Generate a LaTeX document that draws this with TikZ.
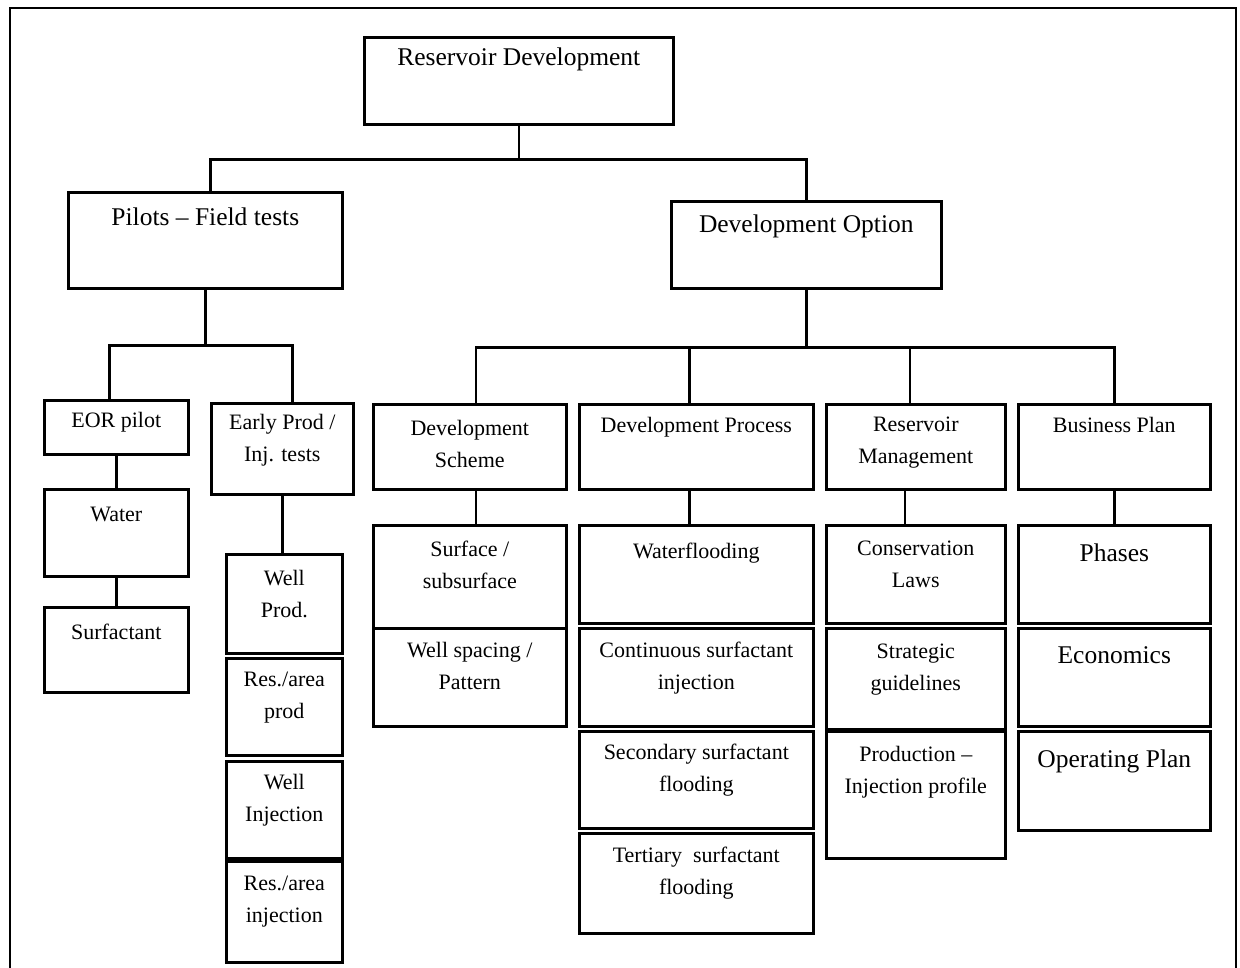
\documentclass[tikz,border=0pt]{standalone}
\usepackage{fontspec}
\setmainfont{Liberation Serif}
\usepackage{tikz}
\definecolor{BLACK}{HTML}{000000}
\definecolor{WHITE}{HTML}{FFFFFF}

\begin{document}
\begin{tikzpicture}[x=1pt, y=-1pt,
    box/.style={draw=BLACK, line width=2.6pt, anchor=north west, inner sep=0pt},
    txt/.style={anchor=north, inner sep=0pt, yshift=-15pt, align=center, font=\fontsize{22}{32}\selectfont},
    bigtxt/.style={txt, font=\fontsize{25.5}{32}\selectfont},
    link/.style={BLACK, line width=2.4pt}]
    \useasboundingbox[fill=WHITE] (0,0) rectangle (1240,967);
    % Frame
    \draw[BLACK, line width=2.4pt] (10,990) -- (10,8) -- (1236,8) -- (1236,990);
    % Top level
    \node[box, minimum width=309, minimum height=87, label={[bigtxt, yshift=3pt]north:Reservoir Development}] (root) at (363,36) {};
    \node[box, minimum width=274, minimum height=96, label={[bigtxt, yshift=-2pt]north:Pilots -- Field tests}] (pilots) at (67,191) {};
    \node[box, minimum width=270, minimum height=87, label={[bigtxt]north:Development Option}] (devopt) at (670,200) {};
    % Pilots branch
    \node[box, minimum width=144, minimum height=54, label={[txt, yshift=2pt]north:EOR pilot}] (eor) at (43,399) {};
    \node[box, minimum width=142, minimum height=91, label={[txt, yshift=3pt]north:{Early Prod /\\Inj. tests}}] (early) at (210,402) {};
    \node[box, minimum width=144, minimum height=87, label={[txt, yshift=-4pt]north:Water}] (water) at (43,488) {};
    \node[box, minimum width=144, minimum height=85, label={[txt, yshift=-3pt]north:Surfactant}] (surf) at (43,606) {};
    \node[box, minimum width=116, minimum height=99, label={[txt, yshift=-2pt]north:{Well\\Prod.}}] (wellprod) at (225,553) {};
    \node[box, minimum width=116, minimum height=97, label={[txt]north:{Res./area\\prod}}] (resprod) at (225,657) {};
    \node[box, minimum width=116, minimum height=97, label={[txt, yshift=1pt]north:{Well\\Injection}}] (wellinj) at (225,760) {};
    \node[box, minimum width=116, minimum height=101, label={[txt, yshift=-1pt]north:{Res./area\\injection}}] (resinj) at (225,860) {};
    % Development option branch
    \node[box, minimum width=193, minimum height=85, label={[txt, yshift=-2pt]north:{Development\\Scheme}}] (scheme) at (372,403) {};
    \node[box, minimum width=234, minimum height=85, label={[txt, yshift=1pt]north:Development Process}] (process) at (578,403) {};
    \node[box, minimum width=179, minimum height=85, label={[txt, yshift=1pt]north:{Reservoir\\Management}}] (mgmt) at (825,403) {};
    \node[box, minimum width=192, minimum height=85, label={[txt, yshift=1pt]north:Business Plan}] (business) at (1017,403) {};
    \node[box, minimum width=193, minimum height=103, label={[txt, yshift=-2pt]north:{Surface /\\subsurface}}] (surface) at (372,524) {};
    \node[box, minimum width=193, minimum height=98, label={[txt]north:{Well spacing /\\Pattern}}] (spacing) at (372,627) {};
    \node[box, minimum width=234, minimum height=98, label={[txt, yshift=-4pt]north:Waterflooding}] (waterfl) at (578,524) {};
    \node[box, minimum width=234, minimum height=98, label={[txt]north:{Continuous surfactant\\injection}}] (contin) at (578,627) {};
    \node[box, minimum width=234, minimum height=97, label={[txt, yshift=1pt]north:{Secondary surfactant\\flooding}}] (second) at (578,730) {};
    \node[box, minimum width=234, minimum height=100, label={[txt]north:{Tertiary\ \ surfactant\\flooding}}] (tert) at (578,832) {};
    \node[box, minimum width=179, minimum height=98, label={[txt, yshift=-2pt]north:{Conservation\\Laws}}] (conserv) at (825,524) {};
    \node[box, minimum width=179, minimum height=101, label={[txt, yshift=-2pt]north:{Strategic\\guidelines}}] (strat) at (825,627) {};
    \node[box, minimum width=179, minimum height=127, label={[txt, yshift=-1pt]north:{Production --\\Injection profile}}] (prodinj) at (825,730) {};
    \node[box, minimum width=192, minimum height=98, label={[bigtxt, yshift=-5pt]north:Phases}] (phases) at (1017,524) {};
    \node[box, minimum width=192, minimum height=98, label={[bigtxt, yshift=-4pt]north:Economics}] (econ) at (1017,627) {};
    \node[box, minimum width=192, minimum height=99, label={[bigtxt, yshift=-5pt]north:Operating Plan}] (oper) at (1017,730) {};
    % Top connectors
    \path (root.south) ++(0,34) coordinate (bar0);
    \draw[link] (root.south) -- (bar0);
    \draw[link] ([xshift=5pt]pilots.north) |- (bar0) -| (devopt.north);
    % Pilots connectors
    \path (pilots.south) ++(0,56) coordinate (bar1);
    \draw[link] (pilots.south) -- (bar1);
    \draw[link] ([xshift=-7pt]eor.north) |- (bar1) -| ([xshift=10pt]early.north);
    \draw[link] (eor.south) -- (water.north);
    \draw[link] (water.south) -- (surf.north);
    \draw[link] (early.south) -- (early.south |- wellprod.north);
    % Development option connectors
    \path (devopt.south) ++(0,58) coordinate (bar2);
    \draw[link] (devopt.south) -- (bar2);
    \draw[link] ([xshift=6pt]scheme.north) |- (bar2) -| (business.north);
    \draw[link] ([xshift=-7pt]process.north) -- ([xshift=-7pt]process.north |- bar2);
    \draw[link] ([xshift=-6pt]mgmt.north) -- ([xshift=-6pt]mgmt.north |- bar2);
    \draw[link] ([xshift=6pt]scheme.south) -- ([xshift=6pt]surface.north);
    \draw[link] ([xshift=-7pt]process.south) -- ([xshift=-7pt]waterfl.north);
    \draw[link] ([xshift=-11pt]mgmt.south) -- ([xshift=-11pt]conserv.north);
    \draw[link] (business.south) -- (phases.north);
\end{tikzpicture}
\end{document}
